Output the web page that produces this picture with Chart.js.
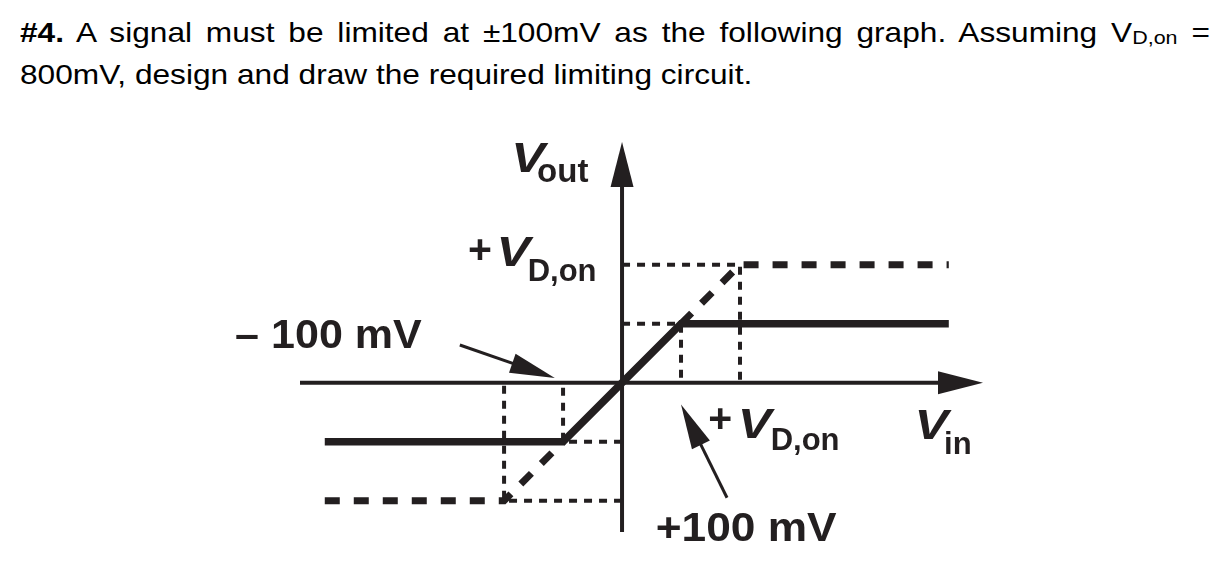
<!DOCTYPE html>
<html>
<head>
<meta charset="utf-8">
<script src="https://cdn.jsdelivr.net/npm/chart.js@4.4.1/dist/chart.umd.min.js"></script>
<style>
  html, body { margin: 0; padding: 0; background: #fff; }
  body { width: 1230px; height: 566px; position: relative; overflow: hidden; }
  #question {
    position: absolute; left: 20px; top: 14px; width: 1053px;
    transform: scaleX(1.13); transform-origin: 0 0;
    font-family: "Liberation Sans", Arial, sans-serif; font-size: 28px; line-height: 37px; color: #000;
  }
  #question .first { text-align: justify; text-align-last: justify; }
  #question .sub { font-size: 19px; vertical-align: -2px; }
  canvas { position: absolute; left: 0; top: 0; }
</style>
</head>
<body>
<div id="question">
  <div class="first"><b>#4.</b> A signal must be limited at ±100mV as the following graph. Assuming V<span class="sub">D,on</span> =</div>
  <div>800mV, design and draw the required limiting circuit.</div>
</div>
<canvas id="limiterChart" width="1230" height="566"></canvas>
<script>
// Transfer curve of the limiter, sketch units: 100 = 100 mV, 200 = V_D,on
const clippedX = [-504, -100, 0, 100, 554];
const clippedY = [-100, -100, 0, 100, 100];

// what the output would do with the diodes alone (dashed)
const diodeUpX = [100, 200, 554];
const diodeUpY = [100, 200, 200];
const diodeDownX = [-504, -200, -100];
const diodeDownY = [-200, -200, -100];

// dotted guides from the break points to the axes, null = pen up
const guideX = [0, 200, 200, null, 0, 100, 100, null, 0, -100, -100, null, 0, -200, -200];
const guideY = [200, 200, 0, null, 100, 100, 0, null, -100, -100, 0, null, -200, -200, 0];

// axis extents (arrow tips at the max)
const xRange = [-546, 612];
const yRange = [-253, 408];

const ink = '#231f20';
const fontFamily = '"Liberation Sans", Arial, sans-serif';

function toPoints(xs, ys) {
    return xs.map((x, i) => ({ x: x, y: ys[i] }));
}

function lineSet(data, width, dash) {
    return {
        data: data,
        borderColor: ink,
        borderWidth: width,
        borderDash: dash || [],
        borderCapStyle: 'butt',
        borderJoinStyle: 'miter',
        pointRadius: 0,
        fill: false,
        tension: 0,
        clip: false
    };
}

function arrowHead(ctx, x1, y1, x2, y2, len, half) {
    const a = Math.atan2(y2 - y1, x2 - x1);
    ctx.save();
    ctx.translate(x2, y2);
    ctx.rotate(a);
    ctx.beginPath();
    ctx.moveTo(0, 0);
    ctx.lineTo(-len, -half);
    ctx.lineTo(-len, half);
    ctx.closePath();
    ctx.fill();
    ctx.restore();
}

// callout arrows and labels, anchored in sketch units
const callouts = [
    { from: [-275, 64], to: [-114, 8] },
    { from: [178, -195], to: [100, -37] }
];

const labels = [
    { text: 'V', x: -188, y: 358, font: 'italic bold 42px', stretch: 1.2 },
    { text: 'out', x: -144, y: 340, font: 'bold 33px' },
    { text: '+', x: -261, y: 203, font: 'bold 41px' },
    { text: 'V', x: -213, y: 197, font: 'italic bold 42px', stretch: 1.2 },
    { text: 'D,on', x: -160, y: 173, font: 'bold 31px' },
    { text: '\u2013 100 mV', x: -656, y: 59, font: 'bold 41px', stretch: 1.05 },
    { text: '+', x: 146, y: -83, font: 'bold 41px' },
    { text: 'V', x: 196, y: -94, font: 'italic bold 42px', stretch: 1.2 },
    { text: 'D,on', x: 252, y: -114, font: 'bold 31px' },
    { text: 'V', x: 496, y: -96, font: 'italic bold 42px', stretch: 1.2 },
    { text: 'in', x: 546, y: -121, font: 'bold 31px' },
    { text: '+100 mV', x: 57, y: -269, font: 'bold 41px', stretch: 1.08 }
];

const sketchMarks = {
    id: 'sketchMarks',
    afterDatasetsDraw(chart) {
        const ctx = chart.ctx;
        const xs = chart.scales.x;
        const ys = chart.scales.y;
        const px = v => xs.getPixelForValue(v);
        const py = v => ys.getPixelForValue(v);

        ctx.save();
        ctx.fillStyle = ink;
        ctx.strokeStyle = ink;

        // axis arrowheads
        arrowHead(ctx, px(0), py(0), px(xRange[1]), py(0), 45, 11.5);
        arrowHead(ctx, px(0), py(0), px(0), py(yRange[1]), 45, 11.5);

        // callout arrows
        callouts.forEach(c => {
            const x1 = px(c.from[0]), y1 = py(c.from[1]);
            const x2 = px(c.to[0]), y2 = py(c.to[1]);
            const a = Math.atan2(y2 - y1, x2 - x1);
            ctx.lineWidth = 3;
            ctx.beginPath();
            ctx.moveTo(x1, y1);
            ctx.lineTo(x2 - 40 * Math.cos(a), y2 - 40 * Math.sin(a));
            ctx.stroke();
            arrowHead(ctx, x1, y1, x2, y2, 45, 10);
        });

        // text
        ctx.textBaseline = 'alphabetic';
        ctx.textAlign = 'left';
        labels.forEach(l => {
            ctx.font = l.font + ' ' + fontFamily;
            ctx.save();
            ctx.translate(px(l.x), py(l.y));
            ctx.scale(l.stretch || 1, 1);
            ctx.fillText(l.text, 0, 0);
            ctx.restore();
        });
        ctx.restore();
    }
};

document.addEventListener('DOMContentLoaded', function() {
    const ctx = document.getElementById('limiterChart').getContext('2d');
    window.limiterChart = new Chart(ctx, {
        type: 'line',
        data: {
            datasets: [
                lineSet(toPoints(clippedX, clippedY), 7.5),
                lineSet(toPoints(diodeUpX, diodeUpY), 7, [15, 14]),
                lineSet(toPoints(diodeDownX, diodeDownY), 7, [15, 14]),
                lineSet(toPoints(guideX, guideY), 4, [8, 7]),
                lineSet([{ x: xRange[0], y: 0 }, { x: 545, y: 0 }], 4),
                lineSet([{ x: 0, y: yRange[0] }, { x: 0, y: 340 }], 4)
            ]
        },
        options: {
            responsive: false,
            animation: false,
            events: [],
            layout: { padding: { left: 300, right: 247, top: 142, bottom: 34 } },
            plugins: {
                legend: { display: false },
                tooltip: { enabled: false },
                title: { display: false }
            },
            scales: {
                x: { type: 'linear', min: xRange[0], max: xRange[1], display: false },
                y: { type: 'linear', min: yRange[0], max: yRange[1], display: false }
            }
        },
        plugins: [sketchMarks]
    });
});
</script>
</body>
</html>
